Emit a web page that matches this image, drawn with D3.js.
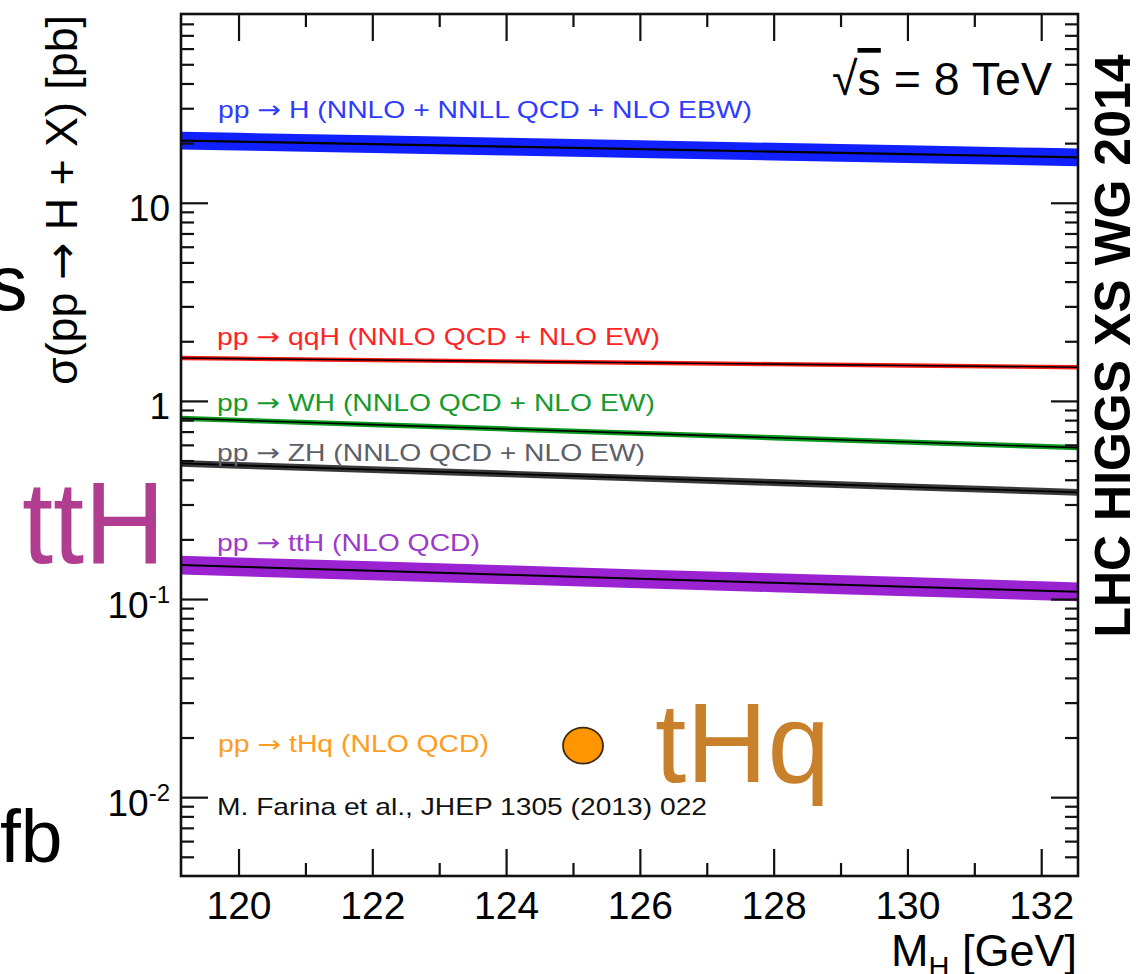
<!DOCTYPE html>
<html>
<head>
<meta charset="utf-8">
<script src="https://cdn.jsdelivr.net/npm/d3@7"></script>
<style>
  html, body { margin: 0; padding: 0; background: #fff; }
  svg { display: block; }
  text { font-family: "Liberation Sans", Arial, Helvetica, sans-serif; }
</style>
</head>
<body>
<script>
// ---------------- DATA ----------------
const massPoints = [119, 120, 122, 124, 126, 128, 130, 132, 133];

const ggH      = [20.64, 20.34, 19.76, 19.20, 18.64, 18.11, 17.59, 17.08, 16.84];
const ggHUp    = [22.87, 22.54, 21.90, 21.28, 20.66, 20.07, 19.50, 18.93, 18.66];
const ggHDown  = [18.63, 18.36, 17.83, 17.33, 16.82, 16.34, 15.88, 15.41, 15.20];

const qqH      = [1.647, 1.634, 1.608, 1.583, 1.558, 1.534, 1.510, 1.486, 1.474];
const qqHUp    = [1.690, 1.675, 1.648, 1.623, 1.597, 1.572, 1.548, 1.523, 1.511];
const qqHDown  = [1.606, 1.593, 1.568, 1.543, 1.519, 1.496, 1.472, 1.449, 1.437];

const WH       = [0.8195, 0.799, 0.759, 0.722, 0.686, 0.652, 0.620, 0.589, 0.575];
const WHUp     = [0.844, 0.823, 0.782, 0.744, 0.707, 0.672, 0.639, 0.607, 0.592];
const WHDown   = [0.795, 0.775, 0.736, 0.700, 0.665, 0.632, 0.601, 0.571, 0.558];

const ZH       = [0.4855, 0.4735, 0.4502, 0.4282, 0.4072, 0.3873, 0.3683, 0.3503, 0.3416];
const ZHUp     = [0.505, 0.492, 0.468, 0.445, 0.423, 0.403, 0.383, 0.364, 0.355];
const ZHDown   = [0.467, 0.455, 0.433, 0.412, 0.392, 0.372, 0.354, 0.337, 0.328];

const ttH      = [0.1488, 0.1454, 0.1388, 0.1325, 0.1265, 0.1208, 0.1153, 0.1101, 0.1076];
const ttHUp    = [0.166, 0.162, 0.155, 0.148, 0.141, 0.135, 0.129, 0.123, 0.120];
const ttHDown  = [0.1335, 0.1304, 0.1245, 0.1188, 0.1135, 0.1083, 0.1034, 0.0987, 0.0965];

const tHqMass  = [125.15];
const tHqXsec  = [0.0182];

const seriesNames  = ["ggH", "qqH", "WH", "ZH", "ttH"];
// label parts: [before arrow, after arrow]
const seriesLabels = [
  ["pp ", " H (NNLO + NNLL QCD + NLO EBW)"],
  ["pp ", " qqH (NNLO QCD + NLO EW)"],
  ["pp ", " WH (NNLO QCD + NLO EW)"],
  ["pp ", " ZH (NNLO QCD + NLO EW)"],
  ["pp ", " ttH (NLO QCD)"]
];
const tHqLabel = ["pp ", " tHq (NLO QCD)"];
const citation = "M. Farina et al., JHEP 1305 (2013) 022";
const arrow = "\u2192";

const xMajorTicks = [120, 122, 124, 126, 128, 130, 132];
const xMinorTicks = [121, 123, 125, 127, 129, 131];
const yMajorTicks = [0.01, 0.1, 1, 10];
const yMinorTicks = [0.005, 0.006, 0.007, 0.008, 0.009,
                     0.02, 0.03, 0.04, 0.05, 0.06, 0.07, 0.08, 0.09,
                     0.2, 0.3, 0.4, 0.5, 0.6, 0.7, 0.8, 0.9,
                     2, 3, 4, 5, 6, 7, 8, 9,
                     20, 30, 40, 50, 60, 70, 80];
const yTickLabels = {0.01: ["10", "-2"], 0.1: ["10", "-1"], 1: ["1", null], 10: ["10", null]};

// ---------------- STYLE / LAYOUT ----------------
const W = 1138, H = 974;
const plot = {left: 181, right: 1078, top: 14, bottom: 876};

const styles = {
  ggH: {band: "#1020ff", line: "#000", lw: 2.2, label: "#2f3bff", lx: 218, ly: 118, len: 534},
  qqH: {band: "#ff1a1a", line: "#000", lw: 1.6, label: "#ff2424", lx: 217, ly: 345, len: 443},
  WH:  {band: "#0a9a20", line: "#000", lw: 1.6, label: "#179a2c", lx: 217, ly: 411, len: 438},
  ZH:  {band: "#3a3a3a", line: "#000", lw: 1.8, label: "#5b606b", lx: 217, ly: 461, len: 428},
  ttH: {band: "#9b22d0", line: "#000", lw: 2.0, label: "#9b3cc9", lx: 217, ly: 551, len: 263}
};

const seriesData = {
  ggH: [ggH, ggHUp, ggHDown],
  qqH: [qqH, qqHUp, qqHDown],
  WH:  [WH, WHUp, WHDown],
  ZH:  [ZH, ZHUp, ZHDown],
  ttH: [ttH, ttHUp, ttHDown]
};

// ---------------- SCALES ----------------
const x = d3.scaleLinear().domain([119.14, 132.55]).range([plot.left, plot.right]);
const y = d3.scaleLog().domain([0.004, 89.7]).range([plot.bottom, plot.top]);

const svg = d3.select("body").append("svg").attr("width", W).attr("height", H);
svg.append("rect").attr("width", W).attr("height", H).attr("fill", "#fff");

svg.append("defs").append("clipPath").attr("id", "clip")
  .append("rect").attr("x", plot.left).attr("y", plot.top)
  .attr("width", plot.right - plot.left).attr("height", plot.bottom - plot.top);

const gPlot = svg.append("g").attr("clip-path", "url(#clip)");

seriesNames.forEach(name => {
  const [c, up, dn] = seriesData[name];
  const st = styles[name];
  const rows = massPoints.map((m, i) => ({m, c: c[i], up: up[i], dn: dn[i]}));
  gPlot.append("path").datum(rows)
    .attr("d", d3.area().x(d => x(d.m)).y0(d => y(d.dn)).y1(d => y(d.up)))
    .attr("fill", st.band);
  gPlot.append("path").datum(rows)
    .attr("d", d3.line().x(d => x(d.m)).y(d => y(d.c)))
    .attr("fill", "none").attr("stroke", st.line).attr("stroke-width", st.lw);
});

function arrowText(sel, parts) {
  sel.append("tspan").text(parts[0]);
  sel.append("tspan").attr("font-family", "DejaVu Sans, sans-serif").text(arrow);
  sel.append("tspan").text(parts[1]);
}

// series labels
seriesNames.forEach((name, i) => {
  const st = styles[name];
  const t = svg.append("text").attr("x", st.lx).attr("y", st.ly)
    .attr("font-size", 24).attr("fill", st.label)
    .attr("textLength", st.len).attr("lengthAdjust", "spacingAndGlyphs");
  arrowText(t, seriesLabels[i]);
});

// tHq point and label
const tl = svg.append("text").attr("x", 218).attr("y", 752).attr("font-size", 23)
  .attr("fill", "#ff9c1e").attr("textLength", 271).attr("lengthAdjust", "spacingAndGlyphs");
arrowText(tl, tHqLabel);
svg.selectAll(".thq").data(tHqMass.map((m, i) => ({m, v: tHqXsec[i]}))).enter()
  .append("ellipse").attr("class", "thq")
  .attr("cx", d => x(d.m)).attr("cy", d => y(d.v))
  .attr("rx", 20).attr("ry", 18)
  .attr("fill", "#ff9500").attr("stroke", "#3a2a10").attr("stroke-width", 1.8);

// citation
svg.append("text").attr("x", 217).attr("y", 815).attr("font-size", 24).attr("fill", "#111")
  .attr("textLength", 490).attr("lengthAdjust", "spacingAndGlyphs").text(citation);

// sqrt(s)
const sq = svg.append("text").attr("x", 1052).attr("y", 95).attr("font-size", 47)
  .attr("text-anchor", "end").attr("fill", "#000")
  .attr("textLength", 220).attr("lengthAdjust", "spacingAndGlyphs");
sq.append("tspan").text("\u221A");
sq.append("tspan").attr("text-decoration", "overline").text("s");
sq.append("tspan").text(" = 8 TeV");

// ---------------- AXES ----------------
function clean(g) {
  g.select(".domain").remove();
  g.selectAll(".tick line").attr("stroke", "#111").attr("stroke-width", 2.2);
}
// bottom
svg.append("g").attr("transform", `translate(0,${plot.bottom})`)
  .call(d3.axisBottom(x).tickValues(xMajorTicks).tickSize(-27).tickFormat(d3.format("d")))
  .call(g => {
    clean(g);
    g.selectAll(".tick text").attr("y", 43).attr("dy", 0).attr("font-size", 39)
      .attr("font-family", "Liberation Sans, Arial, sans-serif").attr("fill", "#000");
  });
svg.append("g").attr("transform", `translate(0,${plot.bottom})`)
  .call(d3.axisBottom(x).tickValues(xMinorTicks).tickSize(-13).tickFormat(""))
  .call(g => clean(g));
// top
svg.append("g").attr("transform", `translate(0,${plot.top})`)
  .call(d3.axisTop(x).tickValues(xMajorTicks).tickSize(-27).tickFormat(""))
  .call(g => clean(g));
svg.append("g").attr("transform", `translate(0,${plot.top})`)
  .call(d3.axisTop(x).tickValues(xMinorTicks).tickSize(-13).tickFormat(""))
  .call(g => clean(g));
// left
svg.append("g").attr("transform", `translate(${plot.left},0)`)
  .call(d3.axisLeft(y).tickValues(yMajorTicks).tickSize(-27).tickPadding(11).tickFormat(() => ""))
  .call(g => {
    clean(g);
    g.selectAll(".tick text").each(function(d) {
      const t = d3.select(this);
      const lab = yTickLabels[d];
      t.attr("dy", 18).attr("font-size", 37).attr("fill", "#000")
        .attr("font-family", "Liberation Sans, Arial, sans-serif").text(null);
      t.append("tspan").text(lab[0]);
      if (lab[1]) t.append("tspan").attr("font-size", 24).attr("dy", -15).text(lab[1]);
    });
  });
svg.append("g").attr("transform", `translate(${plot.left},0)`)
  .call(d3.axisLeft(y).tickValues(yMinorTicks).tickSize(-13).tickFormat(""))
  .call(g => clean(g));
// right
svg.append("g").attr("transform", `translate(${plot.right},0)`)
  .call(d3.axisRight(y).tickValues(yMajorTicks).tickSize(-27).tickFormat(""))
  .call(g => clean(g));
svg.append("g").attr("transform", `translate(${plot.right},0)`)
  .call(d3.axisRight(y).tickValues(yMinorTicks).tickSize(-13).tickFormat(""))
  .call(g => clean(g));

// frame
svg.append("rect").attr("x", plot.left).attr("y", plot.top)
  .attr("width", plot.right - plot.left).attr("height", plot.bottom - plot.top)
  .attr("fill", "none").attr("stroke", "#111").attr("stroke-width", 2.6);

// axis titles
const xt = svg.append("text").attr("x", 1077).attr("y", 966).attr("text-anchor", "end")
  .attr("font-size", 45).attr("fill", "#000");
xt.append("tspan").text("M");
xt.append("tspan").attr("font-size", 29).attr("dy", 11).text("H");
xt.append("tspan").attr("dy", -11).text(" [GeV]");

const yt = svg.append("text").attr("transform", "translate(77,200) rotate(-90)")
  .attr("text-anchor", "middle").attr("font-size", 45).attr("fill", "#000")
  .attr("textLength", 370).attr("lengthAdjust", "spacingAndGlyphs");
yt.append("tspan").text("\u03C3(pp ");
yt.append("tspan").attr("font-family", "DejaVu Sans, sans-serif").text(arrow);
yt.append("tspan").text(" H + X) [pb]");

svg.append("text").attr("transform", "translate(1130,346) rotate(-90)")
  .attr("text-anchor", "middle").attr("font-size", 50).attr("font-weight", "bold").attr("fill", "#000")
  .attr("textLength", 583).attr("lengthAdjust", "spacingAndGlyphs")
  .text("LHC HIGGS XS WG 2014");

// slide annotations
svg.append("text").attr("x", -11).attr("y", 310).attr("font-size", 77).attr("fill", "#000").text("s");
svg.append("text").attr("x", 0).attr("y", 862).attr("font-size", 75).attr("fill", "#000").text("fb");
svg.append("text").attr("x", 22).attr("y", 563).attr("font-size", 116)
  .attr("font-family", "Lato, 'Liberation Sans', sans-serif").attr("font-weight", 300)
  .attr("fill", "#b03d8f").attr("textLength", 143).attr("lengthAdjust", "spacingAndGlyphs").text("ttH");
svg.append("text").attr("x", 655).attr("y", 782).attr("font-size", 114)
  .attr("font-family", "Lato, 'Liberation Sans', sans-serif").attr("font-weight", 300)
  .attr("fill", "#c8802a").attr("textLength", 175).attr("lengthAdjust", "spacingAndGlyphs").text("tHq");
</script>
</body>
</html>
